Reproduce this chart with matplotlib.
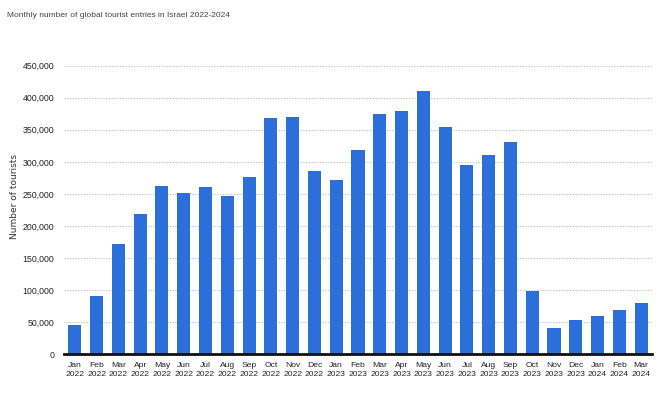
import matplotlib
matplotlib.use("Agg")
import matplotlib.pyplot as plt
from matplotlib.ticker import FuncFormatter

months = ["Jan", "Feb", "Mar", "Apr", "May", "Jun", "Jul", "Aug", "Sep", "Oct", "Nov", "Dec",
          "Jan", "Feb", "Mar", "Apr", "May", "Jun", "Jul", "Aug", "Sep", "Oct", "Nov", "Dec",
          "Jan", "Feb", "Mar"]
years = ["2022"] * 12 + ["2023"] * 12 + ["2024"] * 3
tourists = [46000, 91000, 172000, 219000, 263000, 252000, 261000, 247000, 277000, 369000,
            370000, 285000, 272000, 319000, 375000, 380000, 411000, 355000, 295000, 311000,
            331000, 99000, 40000, 53000, 60000, 68000, 80000]
yticks = [0, 50000, 100000, 150000, 200000, 250000, 300000, 350000, 400000, 450000]

plt.rcParams["font.family"] = ["Liberation Sans", "DejaVu Sans"]

fig = plt.figure(figsize=(6.66, 3.96), dpi=100)
ax = fig.add_axes([0.096, 0.106, 0.883, 0.728])

labels = [f"{m}\n{y}" for m, y in zip(months, years)]
x = list(range(len(tourists)))
ax.bar(x, tourists, width=0.6, color="#2C6FDB", zorder=3)

ax.set_xlim(-0.5, len(tourists) - 0.5)
ax.set_ylim(0, 450000)
ax.set_yticks(yticks)
ax.yaxis.set_major_formatter(FuncFormatter(lambda v, p: f"{int(v):,}"))
ax.set_xticks(x)
ax.set_xticklabels(labels, fontsize=6.1, linespacing=1.25)
ax.tick_params(axis="y", labelsize=6.3, length=0, pad=7, colors="#222222")
ax.tick_params(axis="x", length=0, pad=6, colors="#222222")

ax.grid(axis="y", linestyle=(0, (1, 1.5)), color="#bbbbbb", linewidth=0.8, zorder=0)
for s in ["top", "right", "left"]:
    ax.spines[s].set_visible(False)
ax.spines["bottom"].set_linewidth(2)
ax.spines["bottom"].set_color("#111111")
ax.spines["bottom"].set_zorder(4)

ax.set_ylabel("Number of tourists", fontsize=6.5, color="#333333",
              family=["DejaVu Sans"])
ax.yaxis.set_label_coords(-0.076, 0.547)

fig.text(0.01, 0.96, "Monthly number of global tourist entries in Israel 2022-2024",
         fontsize=6.0, color="#444444", ha="left", va="center")

fig.savefig("out.png", dpi=100)
